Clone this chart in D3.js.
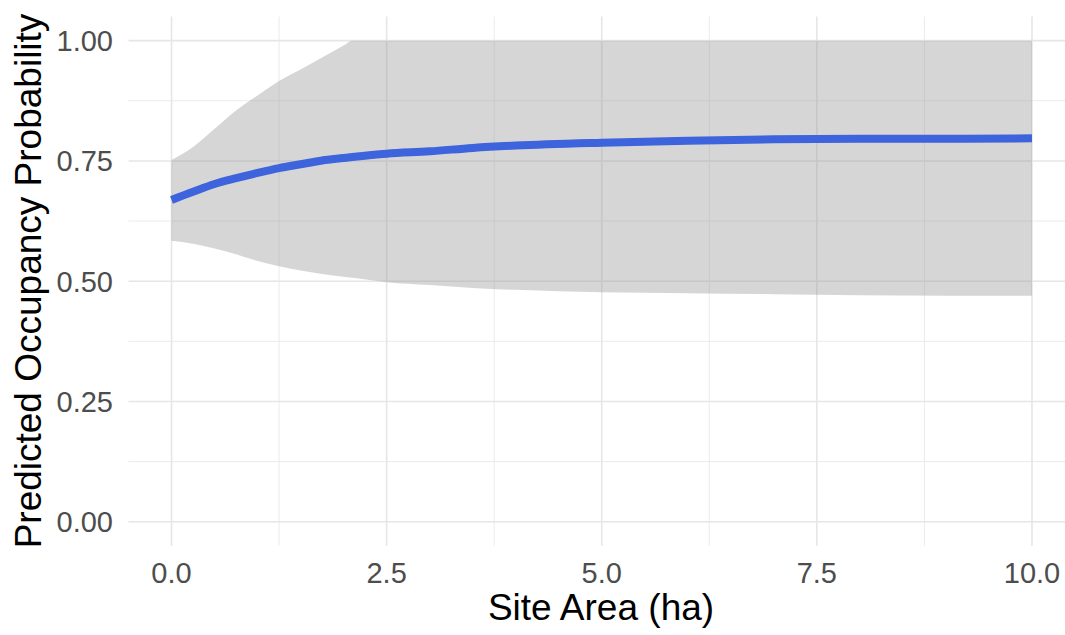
<!DOCTYPE html>
<html>
<head>
<meta charset="utf-8">
<script src="https://cdnjs.cloudflare.com/ajax/libs/d3/7.8.5/d3.min.js"></script>
<style>
  body { margin: 0; background: #fff; }
  text { font-family: "Liberation Sans", Arial, sans-serif; }
</style>
</head>
<body>
<div id="chart"></div>
<script>
// site area (ha)
var area = [0, 0.25, 0.5, 0.75, 1, 1.25, 1.5, 1.75, 2, 2.1, 2.5, 3, 3.5, 4, 5, 6, 7, 8, 9, 10];
// predicted occupancy and its band
var fit   = [0.669, 0.686, 0.702, 0.714, 0.725, 0.735, 0.743, 0.751, 0.756, 0.758, 0.765, 0.770, 0.777, 0.782, 0.788, 0.792, 0.795, 0.796, 0.796, 0.797];
var upper = [0.752, 0.779, 0.817, 0.855, 0.886, 0.916, 0.940, 0.965, 0.990, 1.0, 1.0, 1.0, 1.0, 1.0, 1.0, 1.0, 1.0, 1.0, 1.0, 1.0];
var lower = [0.584, 0.578, 0.568, 0.556, 0.542, 0.531, 0.522, 0.515, 0.509, 0.507, 0.498, 0.492, 0.486, 0.482, 0.477, 0.475, 0.473, 0.471, 0.470, 0.470];

var xTicks = [0, 2.5, 5, 7.5, 10];
var xMinor = [1.25, 3.75, 6.25, 8.75];
var yTicks = [0, 0.25, 0.5, 0.75, 1];
var yMinor = [0.125, 0.375, 0.625, 0.875];

function init() {
  var w = 1065, h = 635;

  var svg = d3.select("#chart").append("svg")
      .attr("width", w)
      .attr("height", h);

  // ggplot style: 5% expansion on both axes
  var x = d3.scaleLinear().domain([-0.5, 10.5]).range([128.5, 1075]);
  var y = d3.scaleLinear().domain([-0.05, 1.05]).range([545.8, 16.6]);

  var grid = svg.append("g");
  grid.selectAll(".vmin").data(xMinor).enter().append("line")
      .attr("x1", d => x(d)).attr("x2", d => x(d))
      .attr("y1", y(-0.05)).attr("y2", y(1.05))
      .attr("stroke", "#ebebeb").attr("stroke-width", 1);
  grid.selectAll(".hmin").data(yMinor).enter().append("line")
      .attr("y1", d => y(d)).attr("y2", d => y(d))
      .attr("x1", x(-0.5)).attr("x2", x(10.5))
      .attr("stroke", "#ebebeb").attr("stroke-width", 1);
  grid.selectAll(".vmaj").data(xTicks).enter().append("line")
      .attr("x1", d => x(d)).attr("x2", d => x(d))
      .attr("y1", y(-0.05)).attr("y2", y(1.05))
      .attr("stroke", "#e6e6e6").attr("stroke-width", 1.6);
  grid.selectAll(".hmaj").data(yTicks).enter().append("line")
      .attr("y1", d => y(d)).attr("y2", d => y(d))
      .attr("x1", x(-0.5)).attr("x2", x(10.5))
      .attr("stroke", "#e6e6e6").attr("stroke-width", 1.6);

  var idx = d3.range(area.length);

  var band = d3.area()
      .x(i => x(area[i]))
      .y0(i => y(lower[i]))
      .y1(i => y(upper[i]))
      .curve(d3.curveMonotoneX);

  svg.append("path")
      .attr("d", band(idx))
      .attr("fill", "#999999")
      .attr("fill-opacity", 0.4);

  var line = d3.line()
      .x(i => x(area[i]))
      .y(i => y(fit[i]))
      .curve(d3.curveMonotoneX);

  svg.append("path")
      .attr("d", line(idx))
      .attr("fill", "none")
      .attr("stroke", "#3d63dd")
      .attr("stroke-width", 8);

  // tick labels
  svg.selectAll(".ylab").data(yTicks).enter().append("text")
      .attr("x", 113)
      .attr("y", d => y(d))
      .attr("dy", "0.36em")
      .attr("text-anchor", "end")
      .attr("font-size", 29)
      .attr("fill", "#4d4d4d")
      .text(d => d3.format(".2f")(d));

  svg.selectAll(".xlab").data(xTicks).enter().append("text")
      .attr("x", d => x(d))
      .attr("y", 583)
      .attr("text-anchor", "middle")
      .attr("font-size", 29)
      .attr("fill", "#4d4d4d")
      .text(d => d3.format(".1f")(d));

  // axis titles
  svg.append("text")
      .attr("x", 601)
      .attr("y", 620)
      .attr("text-anchor", "middle")
      .attr("font-size", 37)
      .attr("fill", "#000")
      .text("Site Area (ha)");

  svg.append("text")
      .attr("transform", "translate(41,281) rotate(-90)")
      .attr("text-anchor", "middle")
      .attr("font-size", 37)
      .attr("fill", "#000")
      .text("Predicted Occupancy Probability");
}

window.onload = init;
</script>
</body>
</html>
